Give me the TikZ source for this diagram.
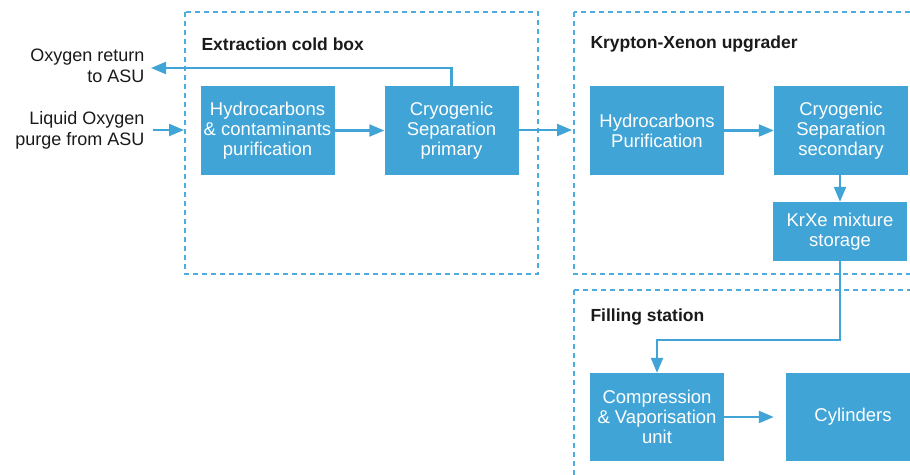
\documentclass[tikz,border=0pt]{standalone}
\usepackage{fontspec}
\setmainfont{Liberation Sans}
\usepackage{tikz}
\usetikzlibrary{positioning,arrows.meta}
\definecolor{kxblue}{RGB}{64,164,214}
\definecolor{kxdash}{RGB}{78,172,222}
\definecolor{kxtext}{RGB}{26,26,26}

\begin{document}
\begin{tikzpicture}[x=1pt,y=-1pt,
  unitbox/.style={fill=kxblue,text=white,minimum width=134pt,minimum height=89pt,inner sep=0pt,align=center,font=\fontsize{18.5}{20}\selectfont},
  framebox/.style={draw=kxdash,line width=1.4pt,dash pattern=on 5pt off 4pt},
  flow/.style={draw=kxblue,line width=2.2pt,-{Triangle[length=15pt,width=12pt]}},
  heading/.style={anchor=west,text=kxtext,font=\fontsize{17.5}{20}\selectfont\bfseries},
  sidetext/.style={anchor=east,align=right,text=kxtext,font=\fontsize{18}{21}\selectfont}]
  % page area
  \clip (0,0) rectangle (910,474);
  % dashed frames
  \draw[framebox] (185,12) rectangle (538,274);
  \draw[framebox] (574,12) rectangle (930,274);
  \draw[framebox] (574,290) rectangle (930,490);
  % frame headings
  \node[heading] (hcold) at (198,44) {Extraction cold box};
  \node[heading] (hkx) at (587,44) {Krypton-Xenon upgrader};
  \node[heading] (hfill) at (587,317) {Filling station};
  % process units
  \node[unitbox] (hcp) at (267.5,130.5) {Hydrocarbons\\\& contaminants\\purification};
  \node[unitbox] (csp) at (451.5,130.5) {Cryogenic\\Separation\\primary};
  \node[unitbox] (hpu) at (657,130.5) {Hydrocarbons\\Purification};
  \node[unitbox] (css) at (841,130.5) {Cryogenic\\Separation\\secondary};
  \node[unitbox,minimum height=59pt] (kxs) at (840,231.5) {KrXe mixture\\storage};
  \node[unitbox,minimum height=88pt] (cvu) at (657,417) {Compression\\\& Vaporisation\\unit};
  \node[unitbox,minimum height=88pt] (cyl) at (853,417) {Cylinders};
  % side labels
  \node[sidetext] (o2ret) at (148,66) {Oxygen return\\to ASU};
  \node[sidetext] (loxin) at (148,130) {Liquid Oxygen\\purge from ASU};
  \coordinate (o2end) at (151,68);
  \coordinate (loxa) at (153,130);
  \coordinate (loxb) at (184,130);
  \coordinate (kxin) at (572,130);
  % connectors
  \draw[flow] (loxa) -- (loxb);
  \draw[flow] (csp.north) |- (o2end);
  \draw[flow] (hcp) -- (csp);
  \draw[flow] (csp.east |- kxin) -- (kxin);
  \draw[flow] (hpu) -- (css);
  \draw[flow] (css.south -| kxs.north) -- (kxs.north);
  \draw[flow] (kxs.south) -- (840,340) -| (cvu.north);
  \draw[flow,shorten >=12pt] (cvu) -- (cyl);
\end{tikzpicture}
\end{document}
